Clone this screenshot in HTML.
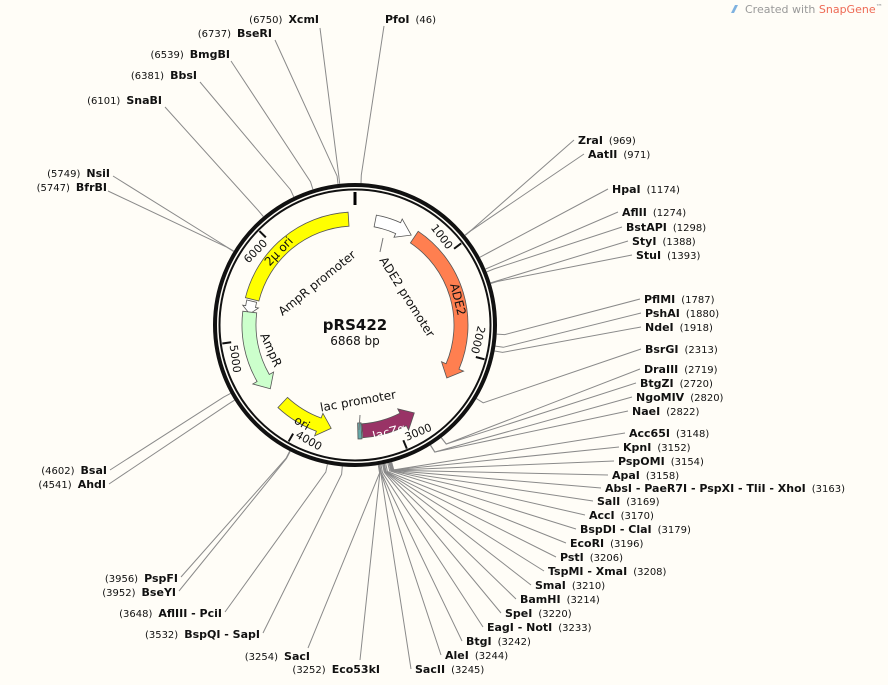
<!DOCTYPE html>
<html><head><meta charset="utf-8"><style>
html,body{margin:0;padding:0;background:#fffdf7;}
svg{display:block;font-family:"DejaVu Sans","Liberation Sans",sans-serif;}
.n{font-weight:bold;font-size:11px;fill:#111}
.p{font-size:10px;fill:#111}
</style></head><body>
<svg id="s" width="888" height="685" viewBox="0 0 888 685" xmlns="http://www.w3.org/2000/svg">
<rect width="888" height="685" fill="#fffdf7"/>
<g id="leads" stroke="#8a8a8a" stroke-width="1" fill="none"></g>
<g id="feats"></g>
<circle cx="355" cy="325" r="140" fill="none" stroke="#111" stroke-width="4"/>
<circle cx="355" cy="325" r="135.5" fill="none" stroke="#111" stroke-width="2"/>
<line x1="355" y1="192" x2="355" y2="205" stroke="#000" stroke-width="3"/>
<g id="ticks" stroke="#111" stroke-width="2"></g>

<g font-size="11" fill="#111">
<text transform="rotate(52.4 355 325)" x="352" y="206" text-anchor="end">1000</text>
<text transform="rotate(104.8 355 325)" x="352" y="206" text-anchor="end">2000</text>
<text transform="rotate(-22.7 355 325)" x="358" y="452" text-anchor="start">3000</text>
<text transform="rotate(29.6 355 325)" x="358" y="452" text-anchor="start">4000</text>
<text transform="rotate(82.1 355 325)" x="358" y="452" text-anchor="start">5000</text>
<text transform="rotate(-45.5 355 325)" x="352" y="206" text-anchor="end">6000</text>
</g>

<g font-size="12" fill="#111" text-anchor="middle">
<text transform="rotate(-46 355 325)" x="355" y="223">2μ ori</text>
<text transform="rotate(76 355 325)" x="355" y="223">ADE2</text>
<text transform="rotate(-39 317 283)" x="317" y="287">AmpR promoter</text>
<text transform="rotate(57.7 407 297)" x="407" y="301">ADE2 promoter</text>
<text transform="rotate(66 271 350)" x="271" y="354">AmpR</text>
<text transform="rotate(-10 358 401)" x="358" y="405">lac promoter</text>
<text transform="rotate(30 302 423)" x="302" y="427">ori</text>
<text transform="rotate(-15 389 432)" x="389" y="436" fill="#fff">lacZα</text>
<text x="355" y="330" font-size="15" font-weight="bold">pRS422</text>
<text x="355" y="345" font-size="12">6868 bp</text>
</g>

<g>
<text x="385" y="23"><tspan class="n">PfoI</tspan><tspan class="p" dx="6">(46)</tspan></text>
<text x="319" y="23" text-anchor="end"><tspan class="p">(6750)</tspan><tspan class="n" dx="6">XcmI</tspan></text>
<text x="272" y="37" text-anchor="end"><tspan class="p">(6737)</tspan><tspan class="n" dx="6">BseRI</tspan></text>
<text x="230" y="58" text-anchor="end"><tspan class="p">(6539)</tspan><tspan class="n" dx="6">BmgBI</tspan></text>
<text x="197" y="79" text-anchor="end"><tspan class="p">(6381)</tspan><tspan class="n" dx="6">BbsI</tspan></text>
<text x="162" y="104" text-anchor="end"><tspan class="p">(6101)</tspan><tspan class="n" dx="6">SnaBI</tspan></text>
<text x="110" y="177" text-anchor="end"><tspan class="p">(5749)</tspan><tspan class="n" dx="6">NsiI</tspan></text>
<text x="107" y="191" text-anchor="end"><tspan class="p">(5747)</tspan><tspan class="n" dx="6">BfrBI</tspan></text>
<text x="107" y="474" text-anchor="end"><tspan class="p">(4602)</tspan><tspan class="n" dx="6">BsaI</tspan></text>
<text x="106" y="488" text-anchor="end"><tspan class="p">(4541)</tspan><tspan class="n" dx="6">AhdI</tspan></text>
<text x="178" y="582" text-anchor="end"><tspan class="p">(3956)</tspan><tspan class="n" dx="6">PspFI</tspan></text>
<text x="176" y="596" text-anchor="end"><tspan class="p">(3952)</tspan><tspan class="n" dx="6">BseYI</tspan></text>
<text x="222" y="617" text-anchor="end"><tspan class="p">(3648)</tspan><tspan class="n" dx="6">AflIII - PciI</tspan></text>
<text x="260" y="638" text-anchor="end"><tspan class="p">(3532)</tspan><tspan class="n" dx="6">BspQI - SapI</tspan></text>
<text x="310" y="660" text-anchor="end"><tspan class="p">(3254)</tspan><tspan class="n" dx="6">SacI</tspan></text>
<text x="380" y="673" text-anchor="end"><tspan class="p">(3252)</tspan><tspan class="n" dx="6">Eco53kI</tspan></text>

<text x="578" y="144"><tspan class="n">ZraI</tspan><tspan class="p" dx="6">(969)</tspan></text>
<text x="588" y="158"><tspan class="n">AatII</tspan><tspan class="p" dx="6">(971)</tspan></text>
<text x="612" y="193"><tspan class="n">HpaI</tspan><tspan class="p" dx="6">(1174)</tspan></text>
<text x="622" y="216"><tspan class="n">AflII</tspan><tspan class="p" dx="6">(1274)</tspan></text>
<text x="626" y="231"><tspan class="n">BstAPI</tspan><tspan class="p" dx="6">(1298)</tspan></text>
<text x="632" y="245"><tspan class="n">StyI</tspan><tspan class="p" dx="6">(1388)</tspan></text>
<text x="636" y="259"><tspan class="n">StuI</tspan><tspan class="p" dx="6">(1393)</tspan></text>
<text x="644" y="303"><tspan class="n">PflMI</tspan><tspan class="p" dx="6">(1787)</tspan></text>
<text x="645" y="317"><tspan class="n">PshAI</tspan><tspan class="p" dx="6">(1880)</tspan></text>
<text x="645" y="331"><tspan class="n">NdeI</tspan><tspan class="p" dx="6">(1918)</tspan></text>
<text x="645" y="353"><tspan class="n">BsrGI</tspan><tspan class="p" dx="6">(2313)</tspan></text>
<text x="644" y="373"><tspan class="n">DraIII</tspan><tspan class="p" dx="6">(2719)</tspan></text>
<text x="640" y="387"><tspan class="n">BtgZI</tspan><tspan class="p" dx="6">(2720)</tspan></text>
<text x="636" y="401"><tspan class="n">NgoMIV</tspan><tspan class="p" dx="6">(2820)</tspan></text>
<text x="632" y="415"><tspan class="n">NaeI</tspan><tspan class="p" dx="6">(2822)</tspan></text>
<text x="629" y="437"><tspan class="n">Acc65I</tspan><tspan class="p" dx="6">(3148)</tspan></text>
<text x="623" y="451"><tspan class="n">KpnI</tspan><tspan class="p" dx="6">(3152)</tspan></text>
<text x="618" y="465"><tspan class="n">PspOMI</tspan><tspan class="p" dx="6">(3154)</tspan></text>
<text x="612" y="479"><tspan class="n">ApaI</tspan><tspan class="p" dx="6">(3158)</tspan></text>
<text x="605" y="492"><tspan class="n">AbsI - PaeR7I - PspXI - TliI - XhoI</tspan><tspan class="p" dx="6">(3163)</tspan></text>
<text x="597" y="505"><tspan class="n">SalI</tspan><tspan class="p" dx="6">(3169)</tspan></text>
<text x="589" y="519"><tspan class="n">AccI</tspan><tspan class="p" dx="6">(3170)</tspan></text>
<text x="580" y="533"><tspan class="n">BspDI - ClaI</tspan><tspan class="p" dx="6">(3179)</tspan></text>
<text x="570" y="547"><tspan class="n">EcoRI</tspan><tspan class="p" dx="6">(3196)</tspan></text>
<text x="560" y="561"><tspan class="n">PstI</tspan><tspan class="p" dx="6">(3206)</tspan></text>
<text x="548" y="575"><tspan class="n">TspMI - XmaI</tspan><tspan class="p" dx="6">(3208)</tspan></text>
<text x="535" y="589"><tspan class="n">SmaI</tspan><tspan class="p" dx="6">(3210)</tspan></text>
<text x="520" y="603"><tspan class="n">BamHI</tspan><tspan class="p" dx="6">(3214)</tspan></text>
<text x="505" y="617"><tspan class="n">SpeI</tspan><tspan class="p" dx="6">(3220)</tspan></text>
<text x="487" y="631"><tspan class="n">EagI - NotI</tspan><tspan class="p" dx="6">(3233)</tspan></text>
<text x="466" y="645"><tspan class="n">BtgI</tspan><tspan class="p" dx="6">(3242)</tspan></text>
<text x="445" y="659"><tspan class="n">AleI</tspan><tspan class="p" dx="6">(3244)</tspan></text>
<text x="415" y="673"><tspan class="n">SacII</tspan><tspan class="p" dx="6">(3245)</tspan></text>
</g>

<g font-size="11">
<path d="M731 13 l4 -8 l3 0 l-4 8z" fill="#7fb2e0"/>
<text x="745" y="13" fill="#999">Created with <tspan fill="#ee6a55">SnapGene</tspan><tspan font-size="7" dy="-4">™</tspan></text>
</g>
</svg>
<script>
(function(){
var NS="http://www.w3.org/2000/svg";
function P(r,d){var a=d*Math.PI/180;return [355+r*Math.sin(a),325-r*Math.cos(a)];}
function f(p){return p[0].toFixed(1)+" "+p[1].toFixed(1);}
var L=[[46,384,26],[6750,320,28],[6737,275,40],[6539,231,61],[6381,200,82],[6101,165,107],[5749,113,176],[5747,108,191],
[969,574,140],[971,584,154],[1174,608,189],[1274,618,212],[1298,622,227],[1388,628,241],[1393,632,255],
[1787,640,299],[1880,641,313],[1918,641,327],[2313,641,349],[2719,640,369],[2720,636,383],[2820,632,397],[2822,628,411],
[3148,625,433],[3152,619,447],[3154,614,461],[3158,608,475],[3163,601,488],[3169,593,501],[3170,585,515],[3179,576,529],
[3196,566,543],[3206,556,557],[3208,544,571],[3210,531,585],[3214,516,599],[3220,501,613],[3233,483,627],[3242,462,641],[3244,441,655],[3245,411,669],
[4602,110,470],[4541,109,484],[3956,181,577],[3952,179,591],[3648,225,612],[3532,263,633],[3254,308,648],[3252,360,660]];
var g=document.getElementById("leads");
L.forEach(function(l){var t=l[0]/6868*360;var pl=document.createElementNS(NS,"polyline");
pl.setAttribute("points",f(P(142,t))+" "+f(P(150,t))+" "+l[1]+" "+l[2]);g.appendChild(pl);});
var tk=document.getElementById("ticks");
[1000,2000,3000,4000,5000,6000].forEach(function(b){var t=b/6868*360;var a=P(134,t),c=P(125,t);
var ln=document.createElementNS(NS,"line");ln.setAttribute("x1",a[0]);ln.setAttribute("y1",a[1]);ln.setAttribute("x2",c[0]);ln.setAttribute("y2",c[1]);tk.appendChild(ln);});
var fg=document.getElementById("feats");
function arc(r,a,b,sw){var lg=Math.abs(b-a)>180?1:0;return " A"+r+" "+r+" 0 "+lg+" "+sw+" "+f(P(r,b));}
function feat(a1,a2,col,dir,r,w,hd,hw){r=r||106;w=w||14;hd=hd||7;hw=hw||5;var ro=r+w/2,ri=r-w/2,d;
if(dir==1){var e=a2-hd;d="M"+f(P(ro,a1))+arc(ro,a1,e,1)+" L"+f(P(ro+hw,e))+" L"+f(P(r,a2))+" L"+f(P(ri-hw,e))+" L"+f(P(ri,e))+arc(ri,e,a1,0)+"Z";}
else if(dir==-1){var s=a1+hd;d="M"+f(P(ro,s))+arc(ro,s,a2,1)+" L"+f(P(ri,a2))+arc(ri,a2,s,0)+" L"+f(P(ri-hw,s))+" L"+f(P(r,a1))+" L"+f(P(ro+hw,s))+"Z";}
else{d="M"+f(P(ro,a1))+arc(ro,a1,a2,1)+" L"+f(P(ri,a2))+arc(ri,a2,a1,0)+"Z";}
var p=document.createElementNS(NS,"path");p.setAttribute("d",d);p.setAttribute("fill",col);p.setAttribute("stroke","#555");p.setAttribute("stroke-width","0.8");fg.appendChild(p);}
feat(11,32,"#ffffff",1,106,12,8,4);
feat(34,120,"#ff7f50",1);
feat(284,356.5,"#ffff00",0);
feat(276,283,"#ffffff",-1,106,10,4,3);
feat(233,277,"#ccffcc",-1);
feat(193,223,"#ffff00",-1);
feat(146,176,"#993366",-1,106,14,7,5);
feat(176.5,178.5,"#66aaaa",0,106,16);
var ln=document.createElementNS(NS,"polyline");ln.setAttribute("points","360,415 359,430");ln.setAttribute("stroke","#777");ln.setAttribute("fill","none");fg.appendChild(ln);
var ln2=document.createElementNS(NS,"polyline");ln2.setAttribute("points","383,238 380,252");ln2.setAttribute("stroke","#777");ln2.setAttribute("fill","none");fg.appendChild(ln2);
})();
</script>
</body></html>
